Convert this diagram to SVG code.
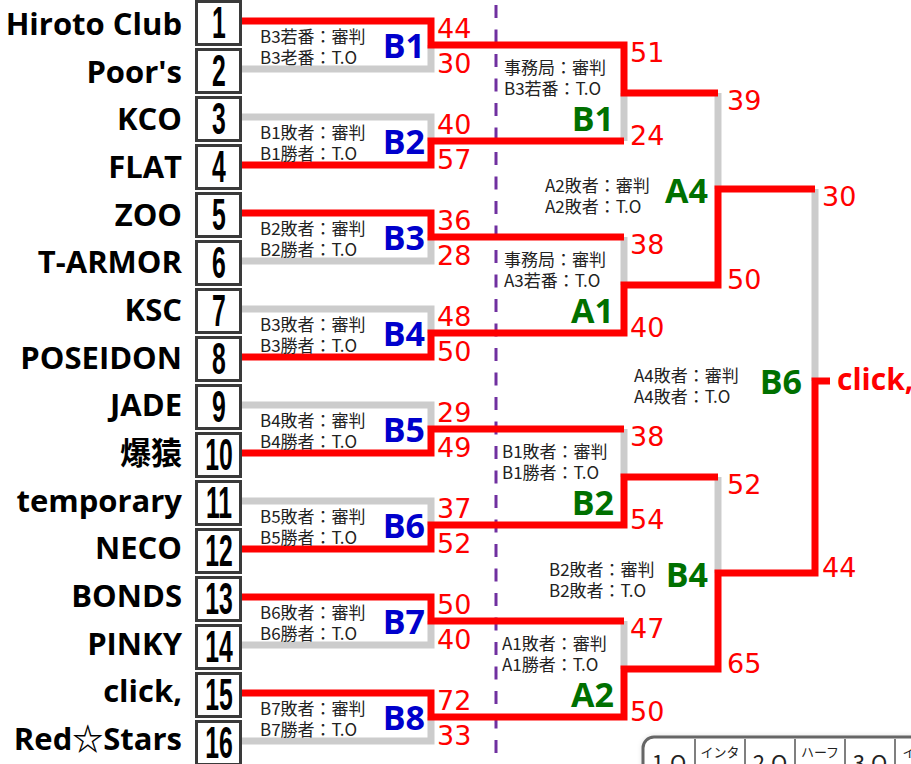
<svg xmlns="http://www.w3.org/2000/svg" width="911" height="764" viewBox="0 0 911 764">
<defs>
<style>
.nm{font-family:"Open Sans","Noto Sans CJK JP",sans-serif;font-weight:700;font-size:31px;text-anchor:end;fill:#000}
.num{font-family:"Liberation Sans",sans-serif;font-weight:700;font-size:45px;text-anchor:middle;fill:#000}
.box{fill:#fff;stroke:#3a3a3a;stroke-width:3}
.sc{font-family:"DejaVu Sans",sans-serif;font-size:27px;fill:#f00}
.lb{font-family:"Noto Sans CJK JP",sans-serif;font-size:17px;fill:#222}
.bb{font-family:"Open Sans",sans-serif;font-weight:700;font-size:34px;fill:#0000cc;text-anchor:end}
.bg{font-family:"Open Sans",sans-serif;font-weight:700;font-size:34px;fill:#007000;text-anchor:end}
.red{fill:none;stroke:#f00;stroke-width:7;stroke-linejoin:miter}
.gry{fill:none;stroke:#ccc;stroke-width:7;stroke-linejoin:miter}
.tq{font-family:"Noto Sans CJK JP",sans-serif;font-size:22px;fill:#222;text-anchor:middle}
.ts{font-family:"Noto Sans CJK JP",sans-serif;font-size:13px;fill:#222;text-anchor:middle}
</style>
<filter id="sh" x="-10%" y="-50%" width="120%" height="200%"><feGaussianBlur stdDeviation="3"/></filter>
</defs>
<rect width="911" height="764" fill="#fff"/>

<line x1="496" y1="5" x2="496" y2="764" stroke="#7030a0" stroke-width="3" stroke-dasharray="13 11.5"/>

<g id="connectors">
<path class="gry" d="M242,69 H431 V45"/>
<path class="gry" d="M242,117 H431 V141"/>
<path class="gry" d="M242,261 H431 V237"/>
<path class="gry" d="M242,309 H431 V333"/>
<path class="gry" d="M242,405 H431 V429"/>
<path class="gry" d="M242,501 H431 V525"/>
<path class="gry" d="M242,645 H431 V621"/>
<path class="gry" d="M242,741 H431 V717"/>
<path class="gry" d="M624,141 V93"/>
<path class="gry" d="M624,237 V285"/>
<path class="gry" d="M624,429 V477"/>
<path class="gry" d="M624,621 V669"/>
<path class="gry" d="M718,93 V189"/>
<path class="gry" d="M718,477 V573"/>
<path class="gry" d="M815,189 V381"/>
<path class="red" d="M242,21 H431 V45 H624 V93 H718"/>
<path class="red" d="M242,165 H431 V141 H624"/>
<path class="red" d="M242,213 H431 V237 H624"/>
<path class="red" d="M242,357 H431 V333 H624 V285 H718 V189 H815"/>
<path class="red" d="M242,453 H431 V429 H624"/>
<path class="red" d="M242,549 H431 V525 H624 V477 H718"/>
<path class="red" d="M242,597 H431 V621 H624"/>
<path class="red" d="M242,693 H431 V717 H624 V669 H718 V573 H815 V381 H830"/>
</g>

<g id="team1"><text class="nm" x="182" y="35">Hiroto Club</text><rect class="box" x="196.5" y="1.5" width="44" height="43"/><text class="num" transform="translate(219,38) scale(0.55,1)">1</text></g>
<g id="team2"><text class="nm" x="182" y="82.7">Poor's</text><rect class="box" x="196.5" y="49.5" width="44" height="43"/><text class="num" transform="translate(219,86) scale(0.55,1)">2</text></g>
<g id="team3"><text class="nm" x="182" y="130.3">KCO</text><rect class="box" x="196.5" y="97.5" width="44" height="43"/><text class="num" transform="translate(219,134) scale(0.55,1)">3</text></g>
<g id="team4"><text class="nm" x="182" y="178">FLAT</text><rect class="box" x="196.5" y="145.5" width="44" height="43"/><text class="num" transform="translate(219,182) scale(0.55,1)">4</text></g>
<g id="team5"><text class="nm" x="182" y="225.7">ZOO</text><rect class="box" x="196.5" y="193.5" width="44" height="43"/><text class="num" transform="translate(219,230) scale(0.55,1)">5</text></g>
<g id="team6"><text class="nm" x="182" y="273.3">T-ARMOR</text><rect class="box" x="196.5" y="241.5" width="44" height="43"/><text class="num" transform="translate(219,278) scale(0.55,1)">6</text></g>
<g id="team7"><text class="nm" x="182" y="321">KSC</text><rect class="box" x="196.5" y="289.5" width="44" height="43"/><text class="num" transform="translate(219,326) scale(0.55,1)">7</text></g>
<g id="team8"><text class="nm" x="182" y="368.7">POSEIDON</text><rect class="box" x="196.5" y="337.5" width="44" height="43"/><text class="num" transform="translate(219,374) scale(0.55,1)">8</text></g>
<g id="team9"><text class="nm" x="182" y="416.3">JADE</text><rect class="box" x="196.5" y="385.5" width="44" height="43"/><text class="num" transform="translate(219,422) scale(0.55,1)">9</text></g>
<g id="team10"><text class="nm" x="182" y="464">爆猿</text><rect class="box" x="196.5" y="433.5" width="44" height="43"/><text class="num" transform="translate(219,470) scale(0.55,1)">10</text></g>
<g id="team11"><text class="nm" x="182" y="511.7">temporary</text><rect class="box" x="196.5" y="481.5" width="44" height="43"/><text class="num" transform="translate(219,518) scale(0.55,1)">11</text></g>
<g id="team12"><text class="nm" x="182" y="559.3">NECO</text><rect class="box" x="196.5" y="529.5" width="44" height="43"/><text class="num" transform="translate(219,566) scale(0.55,1)">12</text></g>
<g id="team13"><text class="nm" x="182" y="607">BONDS</text><rect class="box" x="196.5" y="577.5" width="44" height="43"/><text class="num" transform="translate(219,614) scale(0.55,1)">13</text></g>
<g id="team14"><text class="nm" x="182" y="654.7">PINKY</text><rect class="box" x="196.5" y="625.5" width="44" height="43"/><text class="num" transform="translate(219,662) scale(0.55,1)">14</text></g>
<g id="team15"><text class="nm" x="182" y="702.3">click,</text><rect class="box" x="196.5" y="673.5" width="44" height="43"/><text class="num" transform="translate(219,710) scale(0.55,1)">15</text></g>
<g id="team16"><text class="nm" x="182" y="750">Red☆Stars</text><rect class="box" x="196.5" y="721.5" width="44" height="43"/><text class="num" transform="translate(219,758) scale(0.55,1)">16</text></g>

<g id="r1B1"><text class="lb" x="260" y="43">B3若番：審判</text><text class="lb" x="260" y="64">B3老番：T.O</text><text class="bb" x="425" y="58">B1</text><text class="sc" x="437" y="38">44</text><text class="sc" x="437" y="73">30</text></g>
<g id="r1B2"><text class="lb" x="260" y="139">B1敗者：審判</text><text class="lb" x="260" y="160">B1勝者：T.O</text><text class="bb" x="425" y="154">B2</text><text class="sc" x="437" y="134">40</text><text class="sc" x="437" y="169">57</text></g>
<g id="r1B3"><text class="lb" x="260" y="235">B2敗者：審判</text><text class="lb" x="260" y="256">B2勝者：T.O</text><text class="bb" x="425" y="250">B3</text><text class="sc" x="437" y="230">36</text><text class="sc" x="437" y="265">28</text></g>
<g id="r1B4"><text class="lb" x="260" y="331">B3敗者：審判</text><text class="lb" x="260" y="352">B3勝者：T.O</text><text class="bb" x="425" y="346">B4</text><text class="sc" x="437" y="326">48</text><text class="sc" x="437" y="361">50</text></g>
<g id="r1B5"><text class="lb" x="260" y="427">B4敗者：審判</text><text class="lb" x="260" y="448">B4勝者：T.O</text><text class="bb" x="425" y="442">B5</text><text class="sc" x="437" y="422">29</text><text class="sc" x="437" y="457">49</text></g>
<g id="r1B6"><text class="lb" x="260" y="523">B5敗者：審判</text><text class="lb" x="260" y="544">B5勝者：T.O</text><text class="bb" x="425" y="538">B6</text><text class="sc" x="437" y="518">37</text><text class="sc" x="437" y="553">52</text></g>
<g id="r1B7"><text class="lb" x="260" y="619">B6敗者：審判</text><text class="lb" x="260" y="640">B6勝者：T.O</text><text class="bb" x="425" y="634">B7</text><text class="sc" x="437" y="614">50</text><text class="sc" x="437" y="649">40</text></g>
<g id="r1B8"><text class="lb" x="260" y="715">B7敗者：審判</text><text class="lb" x="260" y="736">B7勝者：T.O</text><text class="bb" x="425" y="730">B8</text><text class="sc" x="437" y="710">72</text><text class="sc" x="437" y="745">33</text></g>

<g id="r2B1"><text class="lb" x="504" y="74">事務局：審判</text><text class="lb" x="504" y="95">B3若番：T.O</text><text class="bg" x="614" y="131">B1</text><text class="sc" x="630" y="62">51</text><text class="sc" x="630" y="145">24</text></g>
<g id="r2A1"><text class="lb" x="504" y="266">事務局：審判</text><text class="lb" x="504" y="287">A3若番：T.O</text><text class="bg" x="614" y="323">A1</text><text class="sc" x="630" y="254">38</text><text class="sc" x="630" y="337">40</text></g>
<g id="r2B2"><text class="lb" x="502" y="458">B1敗者：審判</text><text class="lb" x="502" y="479">B1勝者：T.O</text><text class="bg" x="614" y="515">B2</text><text class="sc" x="630" y="446">38</text><text class="sc" x="630" y="529">54</text></g>
<g id="r2A2"><text class="lb" x="502" y="650">A1敗者：審判</text><text class="lb" x="502" y="671">A1勝者：T.O</text><text class="bg" x="614" y="707">A2</text><text class="sc" x="630" y="638">47</text><text class="sc" x="630" y="721">50</text></g>

<g id="r3A4"><text class="lb" x="545" y="192">A2敗者：審判</text><text class="lb" x="545" y="213">A2敗者：T.O</text><text class="bg" x="708" y="203">A4</text><text class="sc" x="727" y="110">39</text><text class="sc" x="727" y="289">50</text></g>
<g id="r3B4"><text class="lb" x="549" y="576">B2敗者：審判</text><text class="lb" x="549" y="597">B2敗者：T.O</text><text class="bg" x="708" y="587">B4</text><text class="sc" x="727" y="494">52</text><text class="sc" x="727" y="673">65</text></g>

<g id="finalB6"><text class="lb" x="634" y="382">A4敗者：審判</text><text class="lb" x="634" y="403">A4敗者：T.O</text><text class="bg" x="802" y="394">B6</text><text class="sc" x="822" y="206">30</text><text class="sc" x="822" y="577">44</text><text x="837" y="390" font-family="Open Sans, sans-serif" font-weight="700" font-size="30" fill="#f00">click,</text></g>

<g id="quarterTable">
<rect x="643" y="737" width="320" height="70" rx="11" fill="#000" opacity="0.18" filter="url(#sh)"/>
<rect x="643" y="737" width="320" height="70" rx="11" fill="#fff" stroke="#666" stroke-width="3"/>
<g stroke="#555" stroke-width="1.5"><line x1="695" y1="739" x2="695" y2="764"/><line x1="745" y1="739" x2="745" y2="764"/><line x1="795" y1="739" x2="795" y2="764"/><line x1="845" y1="739" x2="845" y2="764"/><line x1="895" y1="739" x2="895" y2="764"/></g>
<text class="tq" x="669" y="771">1.Q</text><text class="ts" x="720" y="757">インタ</text><text class="tq" x="770" y="771">2.Q</text><text class="ts" x="820" y="757">ハーフ</text><text class="tq" x="870" y="771">3.Q</text><text class="ts" x="922" y="757">インタ</text>
</g>
</svg>
